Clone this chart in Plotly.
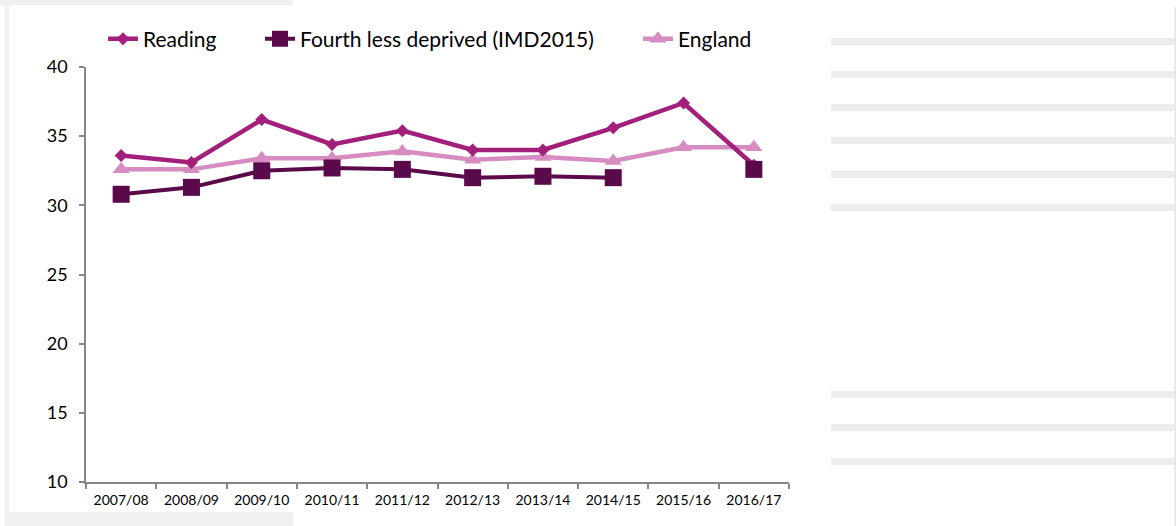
import plotly.graph_objects as go

years = ["2007/08", "2008/09", "2009/10", "2010/11", "2011/12",
         "2012/13", "2013/14", "2014/15", "2015/16", "2016/17"]
reading = [33.6, 33.1, 36.2, 34.4, 35.4, 34.0, 34.0, 35.6, 37.4, 32.9]
fourth = [30.8, 31.3, 32.5, 32.7, 32.6, 32.0, 32.1, 32.0, None, 32.6]
england = [32.6, 32.6, 33.4, 33.4, 33.9, 33.3, 33.5, 33.2, 34.2, 34.2]
y_ticks = [10, 15, 20, 25, 30, 35, 40]

W, H = 1176, 526
L, R, T, B = 86, 789, 67, 482

def px(x):
    return (x - L) / (R - L)

def py(y):
    return (B - y) / (B - T)

FONT = "Lato"

fig = go.Figure()
fig.add_trace(go.Scatter(
    x=years, y=england, name="England", mode="lines+markers",
    line=dict(color="#D68CC1", width=4.5),
    marker=dict(symbol="triangle-up", size=15, color="#D68CC1"),
    legend="legend3", connectgaps=False))
fig.add_trace(go.Scatter(
    x=years, y=reading, name="Reading", mode="lines+markers",
    line=dict(color="#A21F7B", width=4.5),
    marker=dict(symbol="diamond", size=10, color="#A21F7B"),
    legend="legend"))
fig.add_trace(go.Scatter(
    x=years, y=fourth, name="Fourth less deprived (IMD2015)", mode="lines+markers",
    line=dict(color="#5A0A4B", width=4),
    marker=dict(symbol="square", size=17, color="#5A0A4B"),
    legend="legend2", connectgaps=False))

shapes = []
grey = "#F0F0F0"
shapes.append(dict(type="rect", xref="paper", yref="paper", x0=px(0), x1=px(293), y0=py(0), y1=py(5),
                   fillcolor=grey, line_width=0, layer="below"))
shapes.append(dict(type="rect", xref="paper", yref="paper", x0=px(5), x1=px(9), y0=py(5), y1=py(526),
                   fillcolor=grey, line_width=0, layer="below"))
shapes.append(dict(type="rect", xref="paper", yref="paper", x0=px(9), x1=px(293), y0=py(512), y1=py(526),
                   fillcolor=grey, line_width=0, layer="below"))
shapes.append(dict(type="rect", xref="paper", yref="paper", x0=px(1174.5), x1=px(1176), y0=py(7), y1=py(526),
                   fillcolor="#E4E4E4", line_width=0, layer="below"))
for y0 in [38, 71, 104, 137, 171, 204, 391, 424, 458]:
    shapes.append(dict(type="rect", xref="paper", yref="paper", x0=px(831), x1=px(1175),
                       y0=py(y0), y1=py(y0 + 7), fillcolor="#EDEDED", line_width=0, layer="below"))

leg_common = dict(orientation="h", yanchor="middle", xanchor="left",
                  font=dict(family=FONT, size=21, color="#000000"),
                  bgcolor="rgba(0,0,0,0)", itemwidth=30)
ly = py(39)
fig.update_layout(
    width=W, height=H,
    margin=dict(l=L, r=W - R, t=T, b=H - B),
    paper_bgcolor="white", plot_bgcolor="white",
    showlegend=True,
    legend=dict(x=px(103), y=ly, **leg_common),
    legend2=dict(x=px(260), y=ly, **leg_common),
    legend3=dict(x=px(638), y=ly, **leg_common),
    shapes=shapes,
    xaxis=dict(
        type="category", categoryorder="array", categoryarray=years,
        range=[-0.5, 9.5], showgrid=False, zeroline=False,
        showline=True, linecolor="#868686", linewidth=1.5,
        ticks="outside", tickson="boundaries", ticklen=5, tickcolor="#868686", tickwidth=1.5,
        tickfont=dict(family=FONT, size=14, color="#000000"),
        ticklabelstandoff=4,
    ),
    yaxis=dict(
        range=[10, 40], tickvals=y_ticks, showgrid=False, zeroline=False,
        showline=True, linecolor="#868686", linewidth=1.5,
        ticks="outside", ticklen=5, tickcolor="#868686", tickwidth=1.5,
        tickfont=dict(family=FONT, size=18, color="#000000"),
        ticklabelstandoff=8,
    ),
)

fig.write_html("out.html", config={"displayModeBar": False},
               post_script="document.body.style.margin='0';document.body.style.overflow='hidden';")
